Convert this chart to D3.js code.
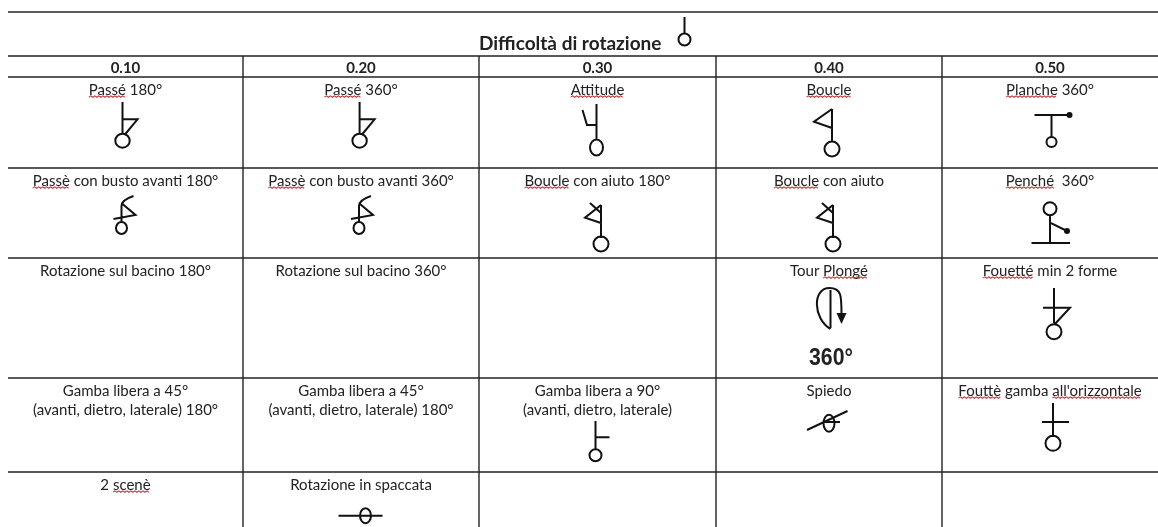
<!DOCTYPE html>
<html>
<head>
<meta charset="utf-8">
<script src="https://cdn.jsdelivr.net/npm/d3@7"></script>
<style>
html, body { margin: 0; padding: 0; background: #fff; }
svg { display: block; filter: blur(0.4px); }
text { font-family: Lato, "Open Sans", sans-serif; fill: #222; white-space: pre; }
</style>
</head>
<body>
<div id="table"></div>
<script>
// table content
var title = "Difficoltà di rotazione";
var difficulties = ["0.10", "0.20", "0.30", "0.40", "0.50"];

var labelRows = [
    ["Passé 180°", "Passé 360°", "Attitude", "Boucle", "Planche 360°"],
    ["Passè con busto avanti 180°", "Passè con busto avanti 360°", "Boucle con aiuto 180°", "Boucle con aiuto", "Penché  360°"],
    ["Rotazione sul bacino 180°", "Rotazione sul bacino 360°", "", "Tour Plongé", "Fouetté min 2 forme"],
    ["Gamba libera a 45°\n(avanti, dietro, laterale) 180°", "Gamba libera a 45°\n(avanti, dietro, laterale) 180°", "Gamba libera a 90°\n(avanti, dietro, laterale)", "Spiedo", "Fouttè gamba all'orizzontale"],
    ["2 scenè", "Rotazione in spaccata", "", "", ""]
];

// words the spell checker flagged with a red wave
var flaggedWords = ["Passé", "Passè", "Attitude", "Boucle", "Planche", "Penché", "Plongé", "Fouetté", "Fouttè", "all'orizzontale", "scenè"];

var glyphRows = [
    ["passe", "passe", "attitude", "boucle", "planche"],
    ["busto", "busto", "aiuto", "aiuto", "penche"],
    [null, null, null, "tour", "fouette"],
    [null, null, "gamba90", "spiedo", "orizzontale"],
    [null, "spaccata", null, null, null]
];

// layout
var width = 1158, height = 527;
var colEdges = [8, 243, 479, 716, 942, 1158];
var rowEdges = [77, 168, 258, 378, 472, 527];
var topLine = 12, titleLine = 56;
var nudgeRows = [
    [-3, -1.4, -1, 3, 1.5],
    [-4, -2, 3.5, 4, 0],
    [0, 0, 0, 1.5, 4],
    [0, 0, -2, 0, 3],
    [0, 4.5, 0, 0, 0]
];

var x = d3.scaleLinear().domain(d3.range(colEdges.length)).range(colEdges);
var y = d3.scaleLinear().domain(d3.range(rowEdges.length)).range(rowEdges);

var svg = d3.select("#table").append("svg")
    .attr("width", width)
    .attr("height", height);

//grid lines
var grid = svg.append("g").attr("stroke", "#222").attr("stroke-width", 1.4);
grid.selectAll("line.h")
    .data([topLine, titleLine].concat(rowEdges.slice(0, -1)))
    .enter()
    .append("line")
    .attr("class", "h")
    .attr("x1", colEdges[0])
    .attr("x2", width)
    .attr("y1", d => d)
    .attr("y2", d => d);
grid.selectAll("line.v")
    .data(d3.range(1, colEdges.length - 1))
    .enter()
    .append("line")
    .attr("class", "v")
    .attr("x1", d => x(d))
    .attr("x2", d => x(d))
    .attr("y1", titleLine)
    .attr("y2", height);

function ring(cx, cy, rx, ry) {
    return `M${cx - rx} ${cy}A${rx} ${ry} 0 1 0 ${cx + rx} ${cy}A${rx} ${ry} 0 1 0 ${cx - rx} ${cy}`;
}

function dot(cx, cy, r) {
    var p = d3.path();
    p.arc(cx, cy, r, 0, 2 * Math.PI);
    return p.toString();
}

// symbols, local to the stem x and the top of their row
var glyphs = {
    title: { d: "M0 -60V-44" + ring(0, -37.5, 6, 6) },
    passe: { d: "M0 25V57M0 42.3H15L2 58" + ring(0, 63.7, 7.2, 7) },
    attitude: { d: "M0 27V63M0 48H-9.5L-14 33" + ring(0, 70.5, 6.5, 8) },
    boucle: { d: "M0 32V65M0 32L-18 44.7L0 51" + ring(0, 72, 7.5, 7.5) },
    planche: { d: "M0 38V60M-17 38H18" + ring(0, 65, 5, 5), fill: dot(18, 38, 3) },
    busto: { d: "M0 54V38Q0 32 12 28M1 36L14 47L-8 51" + ring(0, 60, 5.5, 6) },
    aiuto: { d: "M0 37V70M0 37L-16 49.7L0 55M-11 35L0 45" + ring(0, 76, 7.5, 7.5) },
    penche: { d: "M0 47V75M-18.5 75H20M0 54.7L17 63" + ring(0, 40.7, 6.5, 6.5), fill: dot(17, 63, 3) },
    tour: { d: "M0 32V70M0 71C-18 60 -18 30 -1 30C11 30 11 38 11 56", fill: "M6 55H16L11 66Z" },
    fouette: { d: "M0 30V65M-11 49.7H16L0 67" + ring(0, 73.7, 7.5, 7.5) },
    gamba90: { d: "M0 43V71M0 59.3H14" + ring(0, 77.3, 6, 6) },
    spiedo: { d: "M-22 52L18.5 33M-6 44H11" + ring(0, 45.3, 5.5, 8.5) },
    orizzontale: { d: "M0 25V59M-11 44H16" + ring(0, 65.3, 7.5, 7.5) },
    spaccata: { d: "M-27 43.7H17" + ring(0, 43.7, 5.5, 7.5) }
};

function drawGlyph(name, gx, gy) {
    var g = svg.append("g").attr("transform", `translate(${gx}, ${gy})`);
    g.append("path")
        .attr("d", glyphs[name].d)
        .attr("fill", "none")
        .attr("stroke", "#111")
        .attr("stroke-width", 2);
    if (glyphs[name].fill) {
        g.append("path").attr("d", glyphs[name].fill).attr("fill", "#111");
    }
}

function colCenter(i) {
    return (x(i) + x(i + 1)) / 2;
}

// title and header
svg.append("text")
    .attr("x", 479)
    .attr("y", 50)
    .attr("font-size", 19)
    .attr("font-weight", 700)
    .text(title);
drawGlyph("title", 684.5, 77);

svg.selectAll("text.head")
    .data(difficulties)
    .enter()
    .append("text")
    .attr("class", "head")
    .attr("x", (d, i) => colCenter(i))
    .attr("y", 73)
    .attr("text-anchor", "middle")
    .attr("font-size", 15)
    .attr("font-weight", 700)
    .text(d => d);

//body cells
labelRows.forEach(function (row, r) {
    row.forEach(function (label, c) {
        if (!label) return;
        var t = svg.append("text")
            .attr("class", "cell")
            .attr("text-anchor", "middle")
            .attr("font-size", 15);
        label.split("\n").forEach(function (line, n) {
            t.append("tspan")
                .attr("x", colCenter(c))
                .attr("y", y(r) + 17.5 + n * 19.3)
                .text(line);
        });
        flaggedWords.forEach(function (word) {
            var at = label.indexOf(word);
            if (at < 0) return;
            var node = t.node();
            var a = node.getStartPositionOfChar(at);
            var b = node.getEndPositionOfChar(at + word.length - 1);
            var p = d3.path();
            p.moveTo(a.x, a.y + 2.6);
            for (var wx = a.x + 2, up = true; wx <= b.x; wx += 2, up = !up) {
                p.lineTo(wx, a.y + (up ? 1.4 : 2.8));
            }
            svg.append("path")
                .attr("d", p.toString())
                .attr("fill", "none")
                .attr("stroke", "#c8383c")
                .attr("stroke-width", 1.1);
        });
    });
});

// symbols
glyphRows.forEach(function (row, r) {
    row.forEach(function (name, c) {
        if (name) drawGlyph(name, colCenter(c) + nudgeRows[r][c], y(r));
    });
});

// big angle under Tour Plongé
svg.append("text")
    .attr("x", colCenter(3) + 2)
    .attr("y", y(2) + 107)
    .attr("text-anchor", "middle")
    .attr("font-weight", 700)
    .attr("font-size", 24)
    .attr("textLength", 44)
    .attr("lengthAdjust", "spacingAndGlyphs")
    .style("font-family", "'Liberation Sans', sans-serif")
    .text("360°");
</script>
</body>
</html>
